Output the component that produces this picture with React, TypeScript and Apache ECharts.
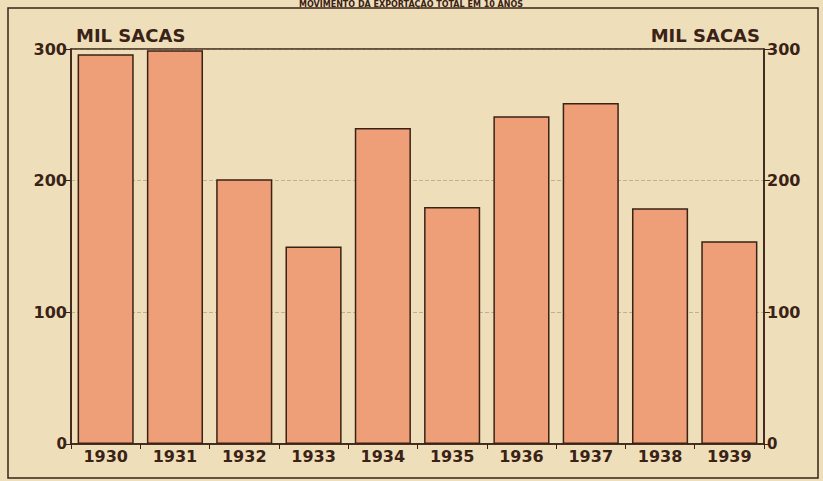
import React, { useEffect, useRef } from "react";
import * as echarts from "echarts";

const years = ["1930", "1931", "1932", "1933", "1934", "1935", "1936", "1937", "1938", "1939"];
const sacas = [296, 299, 201, 150, 240, 180, 249, 259, 179, 154];
const yTicks = [0, 100, 200, 300];
const unitLabel = "MIL SACAS";
const titleText = "MOVIMENTO DA EXPORTAÇÃO TOTAL EM 10 ANOS";

const ink = "#3a2216";
const paper = "#eedfba";
const barFill = "#ee9f78";

export default function App() {
  const ref = useRef<HTMLDivElement>(null);
  useEffect(() => {
    if (!ref.current) return;
    const chart = echarts.init(ref.current, undefined, { renderer: "svg" });
    const labelStyle = {
      color: ink,
      fontFamily: "DejaVu Sans",
      fontWeight: "bold" as const,
      fontSize: 16,
    };
    const yFormatter = (v: number) =>
      yTicks.includes(v) ? (v === 0 ? "{z|0}" : String(v)) : "";
    const rich = { z: { color: ink, fontFamily: "DejaVu Sans", fontWeight: "bold" as const, fontSize: 15 } };
    chart.setOption({
      animation: false,
      backgroundColor: paper,
      grid: {
        left: 71,
        right: 59,
        top: 49,
        bottom: 37,
        show: true,
        borderColor: ink,
        borderWidth: 1.5,
        backgroundColor: "transparent",
      },
      xAxis: {
        type: "category",
        data: years,
        boundaryGap: true,
        axisLine: { lineStyle: { color: ink, width: 1.5 } },
        axisTick: { show: true, length: 5, lineStyle: { color: ink } },
        axisLabel: { ...labelStyle, margin: 4, fontSize: 16 },
      },
      yAxis: [
        {
          type: "value",
          min: 0,
          max: 300,
          interval: 100,
          position: "left",
          axisLine: { show: true, lineStyle: { color: ink, width: 1.5 } },
          axisTick: { show: true, length: 6, lineStyle: { color: ink } },
          axisLabel: { ...labelStyle, margin: 4, formatter: yFormatter, rich },
          splitLine: { show: true, lineStyle: { color: "#8a7a66", width: 1, type: "dashed", opacity: 0.45 } },
        },
        {
          type: "value",
          min: 0,
          max: 300,
          interval: 100,
          position: "right",
          axisLine: { show: true, lineStyle: { color: ink, width: 1.5 } },
          axisTick: { show: true, length: 6, lineStyle: { color: ink } },
          axisLabel: { ...labelStyle, margin: 3, formatter: yFormatter, rich },
          splitLine: { show: false },
        },
      ],
      series: [
        {
          type: "bar",
          data: sacas,
          yAxisIndex: 0,
          barCategoryGap: "19%",
          itemStyle: { color: barFill, borderColor: ink, borderWidth: 1.5 },
        },
      ],
      graphic: [
        {
          type: "rect",
          shape: { x: 8, y: 8, width: 810, height: 470 },
          style: { fill: "none", stroke: ink, lineWidth: 1.5 },
          silent: true,
        },
        {
          type: "text",
          x: 411,
          y: 0,
          style: {
            text: titleText,
            fill: ink,
            font: "bold 8px 'DejaVu Sans'",
            textAlign: "center",
            textVerticalAlign: "top",
          },
        },
        {
          type: "text",
          x: 76,
          y: 26,
          style: {
            text: unitLabel,
            fill: ink,
            font: "bold 18px 'DejaVu Sans'",
            textAlign: "left",
            textVerticalAlign: "top",
          },
        },
        {
          type: "text",
          x: 760,
          y: 26,
          style: {
            text: unitLabel,
            fill: ink,
            font: "bold 18px 'DejaVu Sans'",
            textAlign: "right",
            textVerticalAlign: "top",
          },
        },
      ],
    });
    return () => chart.dispose();
  }, []);
  return (
    <div
      ref={ref}
      style={{ position: "fixed", left: 0, top: 0, width: 823, height: 481, background: paper }}
    />
  );
}
